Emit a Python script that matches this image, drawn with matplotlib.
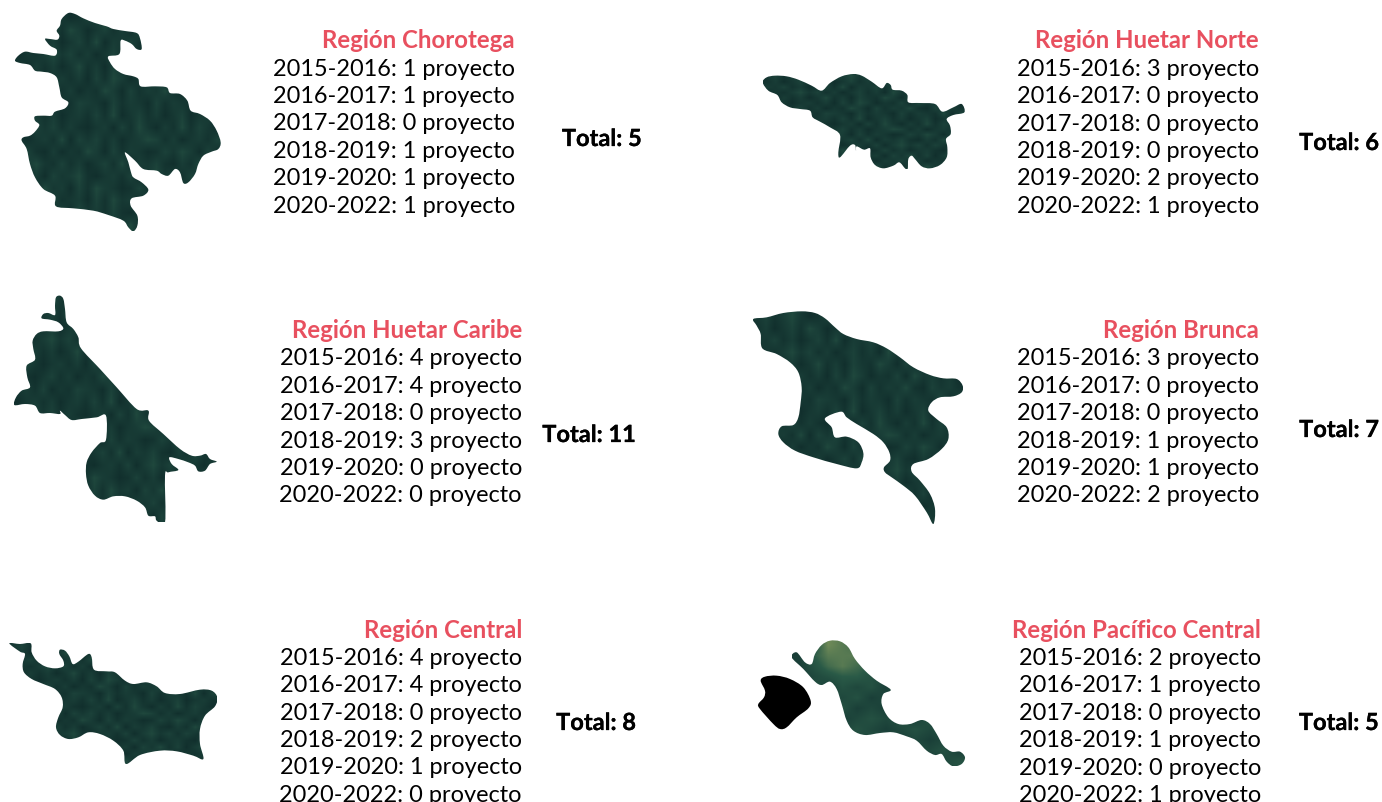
import matplotlib
matplotlib.use("Agg")
import matplotlib.pyplot as plt
import matplotlib.patheffects as pe
import numpy as np
from matplotlib.patches import PathPatch
from matplotlib.path import Path
from matplotlib.colors import LinearSegmentedColormap

plt.rcParams['font.family'] = ['Lato', 'Noto Sans', 'DejaVu Sans']

periods = ["2015-2016", "2016-2017", "2017-2018", "2018-2019", "2019-2020", "2020-2022"]

names = ["Región Chorotega", "Región Huetar Norte", "Región Huetar Caribe",
         "Región Brunca", "Región Central", "Región Pacífico Central"]
totals = [5, 6, 11, 7, 8, 5]
chorotega = [1, 1, 0, 1, 1, 1]
huetar_norte = [3, 0, 0, 0, 2, 1]
huetar_caribe = [4, 4, 0, 3, 0, 0]
brunca = [3, 0, 0, 1, 1, 2]
central = [4, 4, 0, 2, 1, 0]
pacifico = [2, 1, 0, 1, 0, 1]
counts = [chorotega, huetar_norte, huetar_caribe, brunca, central, pacifico]

# right edge of the text block, baselines of title and rows, total position
right_edge = [515, 1259, 522, 1259, 522, 1261]
title_base = [48, 48, 338, 338, 638, 638]
row_base = [
    [76, 103, 130, 158, 185, 213],
    [76, 103, 131, 158, 185, 213],
    [365, 393, 420, 448, 475, 502],
    [365, 393, 420, 448, 475, 502],
    [665, 692, 720, 747, 774, 802],
    [665, 692, 720, 747, 775, 802],
]
total_right = [642, 1379, 636, 1379, 636, 1379]
total_base = [147, 151, 443, 438, 731, 731]

# outlines: (origin x, origin y), points at 3x
shape_chorotega = ((0, 0), [(205,42),(225,45),(250,58),(285,72),(320,82),(340,90),(375,96),(410,102),(420,118),(425,150),(410,150),(395,135),(375,125),(362,125),(358,165),(325,172),(330,190),(345,210),(370,225),(400,232),(415,240),(422,262),(465,262),(500,265),(510,282),(540,285),(562,305),(572,335),(600,345),(630,365),(650,395),(662,430),(655,450),(635,458),(610,470),(595,495),(585,525),(565,550),(550,552),(540,520),(525,510),(505,530),(485,525),(470,515),(430,510),(405,485),(375,460),(385,490),(393,520),(400,535),(425,550),(445,572),(430,590),(395,598),(392,620),(412,650),(412,680),(400,697),(385,685),(370,665),(325,648),(280,635),(220,628),(168,622),(165,590),(130,570),(105,535),(90,495),(80,450),(65,425),(70,415),(90,410),(105,398),(118,378),(105,365),(105,352),(130,350),(155,350),(165,338),(195,328),(205,310),(185,295),(178,265),(170,235),(150,222),(125,218),(105,215),(90,198),(60,192),(45,185),(55,170),(75,158),(100,162),(130,165),(165,170),(170,152),(150,140),(135,120),(150,120),(172,122),(178,110),(170,95),(180,80),(185,60)])
shape_norte = ((740, 60), [(68,70),(80,55),(105,50),(140,52),(175,62),(215,80),(245,95),(270,72),(305,52),(340,45),(365,50),(395,68),(425,88),(440,72),(452,78),(458,92),(485,95),(502,108),(505,130),(540,132),(585,135),(607,158),(640,145),(665,135),(673,160),(640,168),(620,180),(630,200),(632,225),(618,240),(622,265),(620,295),(600,318),(570,328),(545,322),(525,300),(515,290),(505,300),(503,330),(495,328),(478,310),(460,320),(430,328),(405,318),(392,295),(390,268),(372,272),(350,262),(348,275),(345,258),(330,260),(300,295),(295,280),(300,228),(270,205),(240,188),(218,175),(210,155),(180,150),(150,145),(125,130),(112,108),(85,95)])
shape_caribe = ((0, 290), [(168,25),(180,20),(190,30),(195,60),(200,100),(220,120),(235,145),(243,178),(300,240),(350,295),(410,360),(445,365),(447,395),(490,435),(540,480),(575,500),(600,500),(618,495),(630,510),(650,518),(630,525),(615,545),(595,547),(585,530),(565,520),(535,510),(508,505),(515,525),(535,543),(505,550),(495,560),(495,700),(470,695),(465,682),(445,680),(435,655),(410,635),(375,622),(340,622),(310,632),(285,620),(265,590),(258,555),(260,520),(275,490),(300,462),(318,452),(318,380),(290,385),(245,390),(215,393),(195,378),(180,365),(180,375),(150,372),(120,372),(105,350),(75,345),(43,348),(48,325),(65,305),(90,295),(82,265),(80,230),(105,212),(100,180),(98,155),(110,135),(130,127),(175,127),(190,118),(175,100),(150,92),(125,88),(130,75),(145,72),(165,78),(165,50)])
shape_brunca = ((740, 300), [(40,60),(80,55),(130,42),(185,37),(225,42),(255,58),(285,85),(310,105),(350,120),(400,130),(440,148),(480,175),(520,205),(570,228),(610,238),(650,240),(668,260),(665,280),(640,292),(600,295),(575,310),(565,335),(590,360),(620,385),(625,420),(605,450),(565,480),(520,495),(515,518),(540,545),(570,585),(585,630),(580,675),(560,640),(525,590),(490,560),(455,535),(435,520),(432,505),(450,485),(448,460),(430,430),(400,405),(350,375),(320,355),(303,338),(255,358),(275,385),(285,415),(320,413),(355,430),(370,462),(365,490),(350,508),(290,495),(220,475),(165,455),(130,430),(115,405),(125,382),(160,378),(175,355),(182,310),(185,265),(175,220),(150,190),(110,165),(67,148),(62,105),(50,80)])
shape_central = ((0, 630), [(28,43),(60,45),(92,43),(95,70),(110,95),(135,112),(165,118),(190,112),(190,95),(178,75),(180,62),(195,65),(208,82),(218,105),(235,98),(265,75),(275,85),(282,122),(320,127),(345,130),(375,155),(400,165),(440,160),(470,172),(495,192),(540,195),(600,182),(635,185),(652,205),(645,232),(615,260),(600,300),(600,345),(610,390),(580,380),(530,367),(480,365),(420,378),(378,405),(370,365),(340,335),(300,315),(265,310),(235,325),(205,330),(180,318),(168,295),(175,265),(188,235),(185,205),(165,180),(130,165),(95,150),(72,130),(68,105),(75,75),(60,68)])
shape_pacifico = ((740, 630), [(155,85),(170,70),(195,100),(215,105),(225,75),(245,48),(270,35),(300,37),(325,55),(345,90),(375,125),(410,155),(452,182),(430,195),(425,225),(445,265),(475,285),(510,285),(545,273),(570,285),(590,315),(610,350),(635,368),(660,368),(675,385),(665,405),(640,412),(620,398),(605,375),(585,378),(560,365),(530,335),(500,322),(460,310),(420,312),(375,318),(340,305),(320,275),(305,225),(290,180),(270,158),(245,168),(225,158),(190,120)])
shape_black = ((740, 630), [(62,155),(75,143),(110,140),(150,150),(190,175),(212,215),(205,238),(170,265),(140,295),(120,300),(100,285),(60,240),(55,225),(72,205),(75,185)])

# hand typed mottling for the satellite fill, 0 dark .. 9 light
texture_rows = [
    "352463125463524162354261",
    "241352641352416325143524",
    "435241352614352514263415",
    "132463524135241632541326",
    "314241362415326415243152",
    "253134241526413251634241",
    "421352413264152436215342",
    "342513254315243152432615",
    "134241342526135241351342",
    "425352421341526314262531",
    "213426153524134652413425",
    "352141326415243125364152",
    "146325241352614352142631",
    "324153462134251463525314",
    "251634152643125241342152",
    "413252341526341536251463",
    "362415163425214352413241",
    "145326241534362415263524",
]
texture_light_top = [
    "259875423543",
    "368887654342",
    "357876542453",
    "345665434534",
    "453545354345",
    "345453445354",
    "453534354443",
    "544345453534",
    "354454345453",
    "435345534344",
    "544453445453",
    "354344534345",
]


def to_grid(rows):
    return np.array([[int(c) for c in r] for r in rows], dtype=float) / 9


fill_cmap = LinearSegmentedColormap.from_list("sat", ["#0f2b2a", "#1a3f38", "#2a5a47", "#6f8a58"])

fig = plt.figure(figsize=(13.82, 8.03), dpi=100)
ax = fig.add_axes([0, 0, 1, 1])
ax.set_xlim(0, 1382)
ax.set_ylim(803, 0)
ax.axis("off")


def page_points(shape):
    (ox, oy), pts = shape
    return np.array([(ox + x / 3, oy + y / 3) for x, y in pts])


# closed smooth path through the read points
def outline_path(shape):
    pts = page_points(shape)
    n = len(pts)
    verts = [pts[0]]
    codes = [Path.MOVETO]
    for i in range(n):
        p0, p1, p2, p3 = pts[i - 1], pts[i], pts[(i + 1) % n], pts[(i + 2) % n]
        verts += [p1 + (p2 - p0) / 6, p2 - (p3 - p1) / 6, p2]
        codes += [Path.CURVE4] * 3
    return Path(np.array(verts), codes)


def draw_shape(shape, rows, vmax=1.5):
    pts = page_points(shape)
    x0, y0 = pts.min(axis=0)
    x1, y1 = pts.max(axis=0)
    im = ax.imshow(to_grid(rows), extent=(x0, x1, y1, y0), cmap=fill_cmap, vmin=0, vmax=vmax,
                   interpolation="bilinear", aspect="auto", zorder=2)
    patch = PathPatch(outline_path(shape), facecolor="none", edgecolor="none")
    ax.add_patch(patch)
    im.set_clip_path(patch)


shapes = [shape_chorotega, shape_norte, shape_caribe, shape_brunca, shape_central]
for s in shapes:
    draw_shape(s, texture_rows)
draw_shape(shape_pacifico, texture_light_top, vmax=1.0)
ax.add_patch(PathPatch(outline_path(shape_black), facecolor="black", edgecolor="none", zorder=2))
ax.set_xlim(0, 1382)
ax.set_ylim(803, 0)

for i, name in enumerate(names):
    ax.text(right_edge[i], title_base[i], name, ha="right", va="baseline", fontsize=17.3,
            fontweight="bold", color="#e8505f")
    for j, period in enumerate(periods):
        ax.text(right_edge[i], row_base[i][j], f"{period}: {counts[i][j]} proyecto", ha="right",
                va="baseline", fontsize=16.95, color="black")
    ax.text(total_right[i], total_base[i], f"Total: {totals[i]}", ha="right", va="baseline",
            fontsize=17, fontweight="bold", color="black",
            path_effects=[pe.withStroke(linewidth=0.2, foreground="black")])

fig.savefig("out.png", dpi=100, facecolor="white")
